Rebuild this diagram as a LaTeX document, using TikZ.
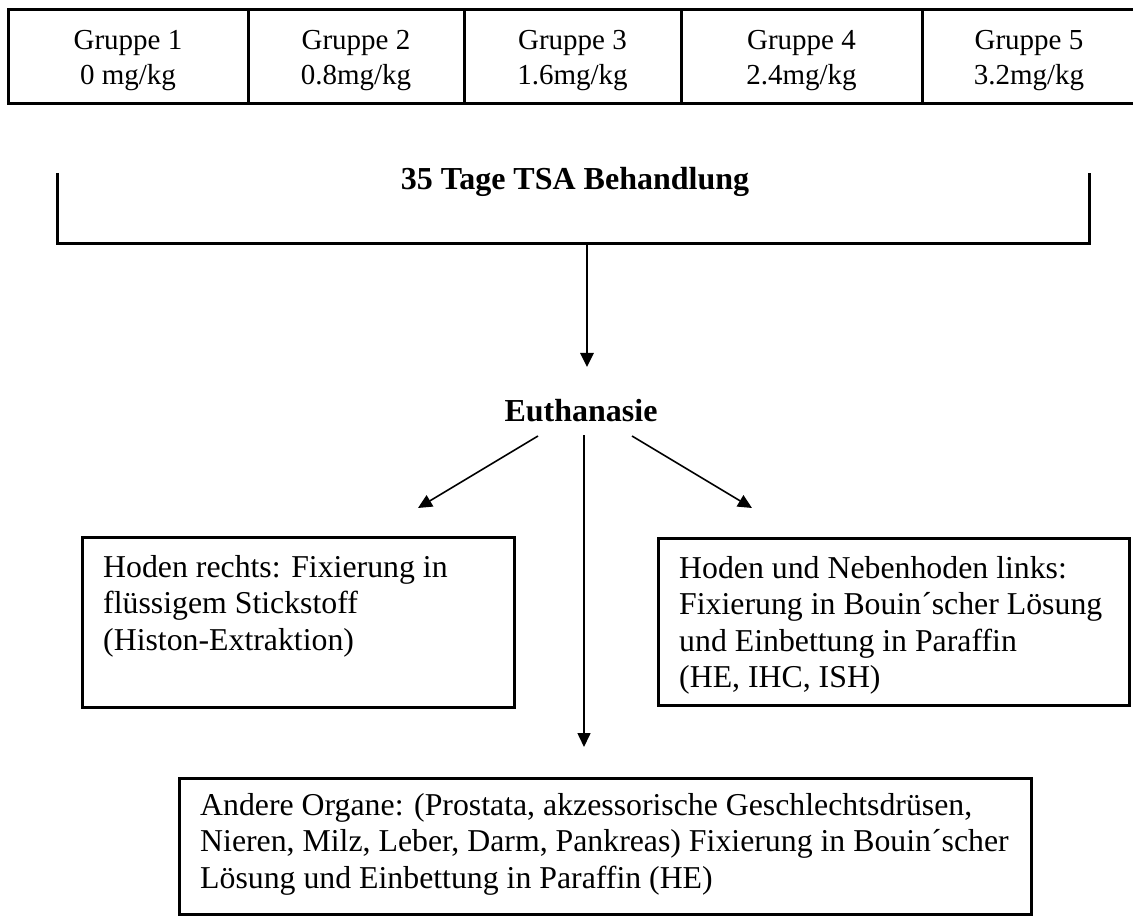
\documentclass[tikz,border=0pt]{standalone}
\usepackage{fontspec}
\setmainfont{Liberation Serif}
\usetikzlibrary{arrows.meta}
\begin{document}
\begin{tikzpicture}[x=1pt,y=-1pt,
  frame/.style={line width=3pt},
  boxframe/.style={draw, line width=3pt, inner sep=0pt, anchor=north west},
  arr/.style={line width=1.6pt, -{Triangle[length=14pt,width=13pt]}},
  arrthick/.style={line width=2.6pt, -{Triangle[length=14pt,width=13pt]}},
  cell/.style={font=\fontsize{29}{35}\selectfont, align=center, inner sep=0pt, anchor=north},
  body/.style={font=\fontsize{31.8}{36.4}\selectfont, align=left, inner sep=0pt, anchor=north west},
  heading/.style={font=\bfseries\fontsize{32}{38}\selectfont, inner sep=0pt, anchor=base}]
\useasboundingbox (0,0) rectangle (1133,917);
% table of groups
\draw[frame] (1133,10) -- (8,10) -- (8,104) -- (1133,104);
\foreach \x in {248,464,681,922} \draw[frame] (\x,10) -- (\x,104);
\node[cell] (g1) at (128,30) {Gruppe 1\\0 mg/kg};
\node[cell] (g2) at (356,30) {Gruppe 2\\0.8mg/kg};
\node[cell] (g3) at (572.5,30) {Gruppe 3\\1.6mg/kg};
\node[cell] (g4) at (801.5,30) {Gruppe 4\\2.4mg/kg};
\node[cell] (g5) at (1029,30) {Gruppe 5\\3.2mg/kg};
% treatment bracket
\draw[frame] (57,173) -- (57,244) -- (1089,244) -- (1089,173);
\node[heading] (treat) at (575,190) {35 Tage TSA Behandlung};
\coordinate (bb) at (587,244);
\coordinate (et) at (587,367);
\draw[arrthick] (bb) -- (et);
% euthanasia
\node[heading] (eu) at (581,421) {Euthanasie};
\coordinate (eL) at (538,436);
\coordinate (eM) at (584,435);
\coordinate (eR) at (632,436);
\coordinate (tL) at (418,508);
\coordinate (tM) at (584,747);
\coordinate (tR) at (752,508);
\draw[arr] (eL) -- (tL);
\draw[arr] (eM) -- (tM);
\draw[arr] (eR) -- (tR);
% boxes
\node[boxframe, minimum width=432pt, minimum height=170pt] (lbox) at (81,536) {};
\node[body] (ltext) at (103,555) {Hoden rechts: Fixierung in\\flüssigem Stickstoff\\(Histon-Extraktion)};
\node[boxframe, minimum width=471pt, minimum height=167pt] (rbox) at (657,537) {};
\node[body] (rtext) at (679,556) {Hoden und Nebenhoden links:\\Fixierung in Bouin´scher Lösung\\und Einbettung in Paraffin\\(HE, IHC, ISH)};
\node[boxframe, minimum width=852pt, minimum height=136pt] (bbox) at (178,777) {};
\node[body] (btext) at (200,793) {Andere Organe: (Prostata, akzessorische Geschlechtsdrüsen,\\Nieren, Milz, Leber, Darm, Pankreas) Fixierung in Bouin´scher\\Lösung und Einbettung in Paraffin (HE)};
\end{tikzpicture}
\end{document}
